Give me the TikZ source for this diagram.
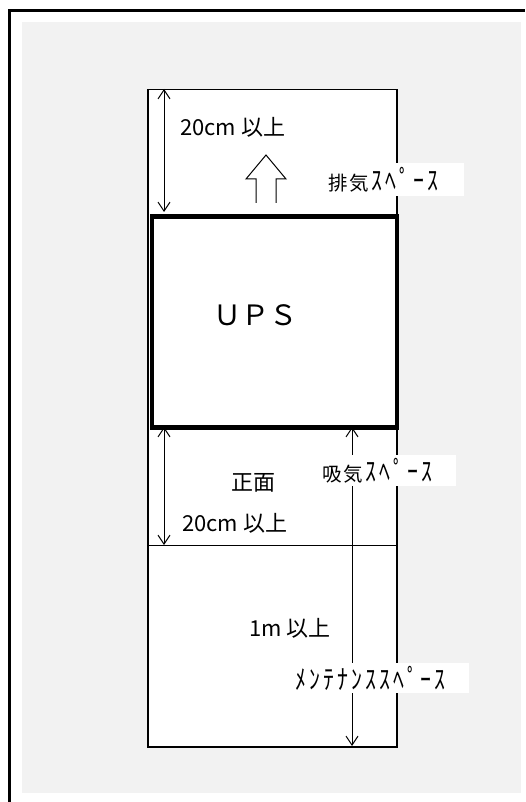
\documentclass[tikz,border=0pt]{standalone}
\usepackage{fontspec}
\usepackage{graphicx}
\setmainfont{Noto Sans CJK JP}
\newfontfamily\jp{Noto Sans CJK JP}
\usetikzlibrary{arrows.meta}
\definecolor{bggray}{HTML}{F2F2F2}
\newcommand{\hwk}[1]{\scalebox{1.12}[1.4]{\addfontfeature{LetterSpace=14}#1}}
\tikzset{
  dimline/.style={line width=1pt, {Straight Barb[length=9pt,width=12pt]}-{Straight Barb[length=9pt,width=12pt]}},
  thinframe/.style={line width=1.5pt, draw=black},
  upsbox/.style={line width=4.5pt, draw=black},
  plaintext/.style={inner sep=0pt, font=\jp\fontsize{22pt}{22pt}\selectfont},
  labelbox/.style={fill=white, inner xsep=3pt, inner ysep=0pt, anchor=west, align=left,
     font=\jp\fontsize{19.5pt}{19.5pt}\selectfont},
}
\begin{document}
\begin{tikzpicture}[x=1pt,y=-1pt]
\useasboundingbox (0,0) rectangle (525,802);
% background
\fill[bggray] (22,22) rectangle (521,793);
\draw[line width=3pt] (9.5,802) -- (9.5,11) -- (525,11);
% outer area
\node (area) [thinframe, fill=white, inner sep=0pt, minimum width=249pt, minimum height=657pt, anchor=north west] at (147,89) {};
\coordinate (sepL) at (147,545);
\coordinate (sepR) at (396,545);
\draw[line width=1pt] (sepL) -- (sepR);
% UPS box
\node (ups) [upsbox, fill=white, inner sep=0pt, minimum width=245pt, minimum height=210.5pt, anchor=north west] at (149.5,214.5) {};
\node (upstext) [inner sep=0pt, font=\jp\fontsize{28pt}{28pt}\selectfont] at (255,315) {ＵＰＳ};
% dimension arrows
\coordinate (a1t) at (164,89);
\coordinate (a1b) at (164,212);
\draw[dimline] (a1t) -- (a1b);
\coordinate (a2t) at (164,427);
\coordinate (a2b) at (164,545);
\draw[dimline] (a2t) -- (a2b);
\coordinate (a3t) at (352,427);
\coordinate (a3b) at (352,746);
\draw[dimline] (a3t) -- (a3b);
% hollow arrow
\coordinate (h1) at (256,203);
\coordinate (h2) at (256,179);
\coordinate (h3) at (246,179);
\coordinate (h4) at (266,155);
\coordinate (h5) at (286,179);
\coordinate (h6) at (276,179);
\coordinate (h7) at (276,203);
\draw[line width=1pt, line join=miter] (h1) -- (h2) -- (h3) -- (h4) -- (h5) -- (h6) -- (h7);
% texts
\node (t1) [plaintext, anchor=west] at (180,127) {20cm 以上};
\node (t2) [plaintext] at (253,483) {正面};
\node (t3) [plaintext, anchor=west] at (182,523) {20cm 以上};
\node (t4) [plaintext, anchor=west] at (249,628) {1m 以上};
% label boxes
\node (exh) [labelbox, minimum height=33pt, text width=133pt] at (325,179.5) {排\kern2pt 気\kern2pt\hwk{ｽﾍﾟｰｽ}};
\node (inh) [labelbox, minimum height=31pt, text width=131pt] at (319,470.5) {吸\kern2pt 気\kern2pt\hwk{ｽﾍﾟｰｽ}};
\node (mnt) [labelbox, minimum height=30pt, text width=171pt] at (292,678) {\hwk{ﾒﾝﾃﾅﾝｽｽﾍﾟｰｽ}};
\end{tikzpicture}
\end{document}
